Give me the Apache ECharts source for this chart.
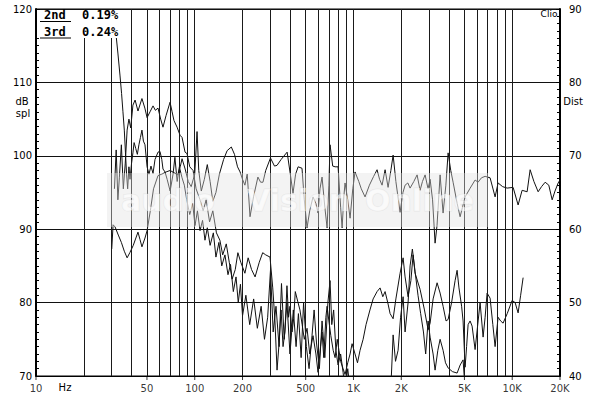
<!DOCTYPE html>
<html><head><meta charset="utf-8">
<script src="https://cdn.jsdelivr.net/npm/echarts@6/dist/echarts.min.js"></script>
<style>html,body{margin:0;padding:0;background:#fff}#c{width:600px;height:396px}</style>
</head><body><div id="c"></div>
<script>
// Frequency response (dB SPL) : [Hz, dB]
const fundamental = [
[30,87.3],[30.6,90.6],[31.5,90.3],[33,89.2],[34.5,88.2],[36,87],[37.5,86.1],[39,86.8],[41,87.8],[43.9,89.6],
[45.2,88.6],[46.5,87.6],[48.6,88.8],[50.1,89.8],[52.5,92.5],[55,95.5],[58.7,97.3],[62,97.5],[66,97.8],[70,98.0],
[74,97.7],[78,97.4],[81,98.5],[83.2,99.6],[87,98.2],[91,96.5],[95,95.8],[100,97.5],[103.4,103.3],[106,98],
[110,95.2],[115,96.8],[120,98.8],[125,96.5],[130,93.8],[136,95],[143,97.5],[152,99.5],[160,100.7],[170,101.2],
[178,100.2],[186,98.5],[193,97.8],[200,96.8],[207,96],[214,97.5],[218,95],[223,91.7],[235,94.5],[250,97.1],
[260,96.4],[269,96.4],[280,98],[300,99.7],[318,98.6],[330,98.7],[350,99.5],[382,100.5],[400,97.5],[416,94.9],
[432,97.5],[448,98.5],[474,98.3],[490,94],[510,90.2],[530,92.5],[556,94.4],[580,93.5],[598,92.2],[615,95.5],
[634,97.1],[660,93],[682,90.2],[700,96],[712,101.5],[740,98.6],[766,98.5],[800,98.5],[830,93],[848,90.2],
[870,94.5],[885,96.3],[920,94],[952,91.5],[990,95.5],[1023,97.8],[1080,96.5],[1120,95.5],[1183,94.4],[1260,96],
[1340,97.2],[1408,98.1],[1460,96.8],[1514,96.0],[1582,98.1],[1652,95.7],[1720,98],[1777,100.1],[1850,96.5],[1966,92.3],
[2050,95],[2114,96.0],[2200,96.3],[2273,95.6],[2400,96.5],[2516,97.4],[2628,95.3],[2720,96.5],[2826,97.4],[2950,95.5],
[3039,96.8],[3150,94],[3267,88.1],[3360,90.5],[3513,97.4],[3669,92.2],[3820,96],[3946,100.4],[4100,98],[4242,96.4],
[4500,93.5],[4696,91.7],[5049,94.4],[5400,95.5],[5837,96.7],[6096,96.4],[6400,97],[6748,97.2],[7256,97.0],[7802,94.4],
[8149,96.3],[8700,95.8],[9287,95.6],[10132,95.7],[10894,93.3],[11545,95.3],[12414,95.1],[12968,98.1],[13700,96.5],[14566,95.1],
[15300,95.8],[16126,96.4],[17000,96],[17851,94.0],[18600,95.2],[19477,96.3],[20000,96.7]
];
// 2nd harmonic distortion : [Hz, dB]
const harmonic2 = [
[31.2,95.5],[32,100.8],[32.8,94],[33.5,97],[34.5,101.5],[35.5,95.5],[36.5,99],[37.5,103.5],[38.5,105],[39.5,103.8],
[40.8,106.9],[42.1,107.6],[43.9,106.1],[46.5,107.8],[48.5,106.5],[50.1,105.2],[52.3,106],[54.6,106.8],[56.5,106.2],[58.7,106.5],
[61,105],[63.1,103.9],[66,105.5],[69.9,107.3],[72,106],[74,104.8],[77.4,103.9],[80.8,102.8],[83.2,102.5],[86.9,100.5],
[89.4,100.3],[93,98.5],[97.6,98],[102,95.5],[108,94],[113,92.5],[118,94],[124,91],[130,92.5],[137,89.5],
[144,88.5],[150,86.5],[158,88],[165,85.5],[172,83.2],[180,84.5],[187,86.8],[195,85.5],[207,84],[217,86.1],
[228,84.5],[240,83.5],[255,85.5],[268,86.8],[280,86.5],[298,86.2],[310,82],[320,77.6],[330,70.8],[340,74.5],
[350,79],[360,74],[370,76],[381,82.3],[390,78],[398,79.5],[410,76],[420,77.8],[430,81.5],[445,80.2],
[460,79],[475,77],[490,75],[510,76.5],[530,73],[556,75.5],[580,73],[598,70.5],[620,74],[634,76],
[650,72.5],[670,78],[682,79.5],[700,77.5],[720,75.5],[745,73.5],[766,72.5],[790,75],[810,73.5],[830,72],
[860,71],[885,70.2],[920,71.8],[952,73],[980,74.4],[1023,73],[1060,71.8],[1100,73.5],[1150,75],[1200,77],
[1270,79],[1330,80.5],[1408,81.5],[1471,82],[1530,80.8],[1582,81.5],[1652,79.8],[1701,78.5],[1777,77.8],[1850,80.5],
[1966,84],[2054,86.1],[2114,83.5],[2208,80.8],[2300,83],[2374,86.5],[2444,84],[2628,81.8],[2800,79],[2952,76.3],
[3039,77.2],[3174,80.5],[3364,82.7],[3513,81.3],[3669,79.5],[3830,77.5],[3946,77.7],[4150,80],[4367,83],[4496,84.4],
[4620,82],[4800,79.5],[4904,77.5],[5049,71.2],[5160,74],[5273,77],[5428,77.5],[5588,76.8],[5837,73.6],[6100,77.5],
[6276,80],[6555,75.3],[6750,78],[6947,81.3],[7256,80.6],[7550,77],[7802,74],[8149,78],[8450,77.5],[8762,77.2],
[9300,78.5],[9986,80.3],[10430,80],[10894,78.6],[11300,81],[11714,83.4]
];
// 3rd harmonic distortion : [Hz, dB]
const harmonic3 = [
[32.0,116.3],[32.8,114],[33.8,111],[34.6,108.5],[35.3,106],[36,103.5],[36.6,100.5],[37.2,97.5],[37.8,95.5],[38.5,98.5],
[39.1,96.8],[40,99],[40.8,100.4],[41.5,101.8],[42.5,101],[43.5,100.2],[44.5,101.5],[45.5,102.5],[46.5,103.5],[47.5,102],
[48.6,101.5],[50.1,98.5],[51.5,97.5],[53,98.6],[54.6,97.6],[56.2,99.5],[58.7,100.5],[60.4,100.6],[62,99.5],[63.1,98.2],
[65,97.8],[67,96.8],[70,95.2],[73,97.5],[75,99.8],[77.5,96.5],[80,98.5],[83.2,97],[86,96],[89,94],
[93,92],[97,93.5],[100.4,90.5],[104,92.5],[108,89.8],[112,91.2],[116,88.5],[120,90.2],[125,87.8],[131,89.5],
[136,86.2],[142,88.2],[148,85],[155,86.5],[162,83.8],[168,85.2],[175,81.5],[182,83.5],[188,80],[194,82.5],
[200,78.2],[210,81],[222,77],[235,80.5],[248,76.5],[262,79.5],[275,75],[288,78],[300,84.4],[312,76],
[325,79.5],[340,74],[352,82.6],[366,75],[381,80],[398,73],[418,79],[435,74],[450,78.5],[468,72.5],
[485,80],[505,74],[525,71],[548,75.5],[565,79],[585,74.5],[610,71],[634,77.5],[660,72.5],[690,80],
[712,83],[730,77],[750,79],[775,73.5],[800,71.5],[830,73],[860,70.5],[885,68],[920,71],[960,67.5],
[1000,70.2],[1060,68.5],[1100,66],[1200,68.6],[1300,66],[1440,64],[1600,62],
[1701,66],[1777,75.6],[1840,72],[1910,73.5],[1980,78],[2054,80.8],[2114,76],[2208,80],[2273,85],[2350,87.3],
[2444,84.2],[2550,81],[2650,78.5],[2760,76],[2850,73],[2952,77.5],[3039,75.3],[3174,73],[3267,70.8],[3400,73.5],
[3513,75],[3669,73.5],[3800,71.8],[3946,71.1],[4200,70.6],[4496,70.4],[4700,71.5],[4904,72.2],[5000,69.5],[5300,66],
[6500,65]
];
// Axis definitions
const gridFreqs = [20,30,40,50,60,70,80,90,100,200,300,400,500,600,700,800,900,1000,2000,3000,4000,5000,6000,7000,8000,9000,10000];
const xLabelFreqs = [10,50,100,200,500,1000,2000,5000,10000,20000];
const xLabelTexts = ['10','50','100','200','500','1K','2K','5K','10K','20K'];
const splRange = [70,120];
const distRange = [40,90];
const legendNames = ['2nd','3rd'];
const legendValues = ['0.19%','0.24%'];

const FONT = 'DejaVu Sans';
const chart = echarts.init(document.getElementById('c'), null, {renderer:'svg', width:600, height:396});

function curve(name, data){
  return {name, type:'line', data, xAxisIndex:0, yAxisIndex:0, showSymbol:false, symbol:'none',
    lineStyle:{color:'#111', width:1}, clip:true, silent:true, z:3, animation:false};
}

const option = {
  animation:false,
  backgroundColor:'#fff',
  grid:{left:36, right:40, top:9, bottom:20, show:true, borderColor:'#000', borderWidth:1, backgroundColor:'transparent'},
  xAxis:{type:'log', logBase:10, min:10, max:20000,
    axisLine:{show:true, onZero:false, lineStyle:{color:'#000', width:1}},
    axisTick:{show:false}, axisLabel:{show:false}, splitLine:{show:false}, minorTick:{show:false}},
  yAxis:[
    {type:'value', min:splRange[0], max:splRange[1], interval:10, position:'left',
     axisLine:{show:true, onZero:false, lineStyle:{color:'#000', width:2}},
     axisTick:{show:true, inside:true, length:4, lineStyle:{color:'#000'}},
     minorTick:{show:true, splitNumber:10, length:3, lineStyle:{color:'#000'}},
     splitLine:{show:true, lineStyle:{color:'#111', width:1}},
     axisLabel:{color:'#000', fontSize:10, fontFamily:FONT, margin:4}},
    {type:'value', min:distRange[0], max:distRange[1], interval:10, position:'right',
     axisLine:{show:true, onZero:false, lineStyle:{color:'#000', width:2}},
     axisTick:{show:true, inside:true, length:4, lineStyle:{color:'#000'}},
     minorTick:{show:true, splitNumber:10, length:3, lineStyle:{color:'#000'}},
     splitLine:{show:false},
     axisLabel:{color:'#000', fontSize:10, fontFamily:FONT, margin:9}}
  ],
  series:[
    {type:'line', data:[], silent:true, z:1,
     markLine:{silent:true, symbol:['none','none'], label:{show:false}, animation:false,
       lineStyle:{color:'#1a1a1a', width:1, type:'solid'}, emphasis:{disabled:true},
       data: gridFreqs.map(f => ({xAxis:f}))}},
    {type:'scatter', silent:true, clip:false, z:4, symbol:'rect', symbolSize:[1,4], symbolOffset:[0,2],
     itemStyle:{color:'#000'},
     label:{show:true, position:'bottom', distance:3, color:'#000', fontSize:10, fontFamily:FONT},
     data: xLabelFreqs.map((f,i) => ({value:[f, splRange[0]], label:{formatter:xLabelTexts[i]}}))},
    curve('Fundamental', fundamental),
    curve('2nd', harmonic2),
    curve('3rd', harmonic3)
  ],
  graphic:[
    {type:'rect', z:20, silent:true, shape:{x:107, y:173, width:381, height:54}, style:{fill:'rgba(225,225,225,0.4)'}},
    {type:'text', z:21, silent:true, x:121, y:200, style:{text:'audio', fill:'rgba(255,255,255,0.6)', stroke:'rgba(205,205,205,0.35)', lineWidth:1, font:'bold 30px DejaVu Sans', verticalAlign:'middle'}},
    {type:'text', z:21, silent:true, x:247, y:200, style:{text:'Vision', fill:'rgba(255,255,255,0.6)', stroke:'rgba(205,205,205,0.35)', lineWidth:1, font:'bold 30px DejaVu Sans', verticalAlign:'middle'}},
    {type:'text', z:21, silent:true, x:365, y:200, style:{text:'Online', fill:'rgba(255,255,255,0.6)', stroke:'rgba(205,205,205,0.35)', lineWidth:1, font:'bold 30px DejaVu Sans', verticalAlign:'middle'}},
    {type:'rect', z:50, silent:true, shape:{x:37, y:10, width:86, height:28}, style:{fill:'#fff'}},
    {type:'text', z:51, x:44, y:15, style:{text:legendNames[0], fill:'#000', font:'bold 12px DejaVu Sans Mono', verticalAlign:'middle'}},
    {type:'text', z:51, x:82, y:15, style:{text:legendValues[0], fill:'#000', font:'bold 12px DejaVu Sans Mono', verticalAlign:'middle'}},
    {type:'line', z:51, shape:{x1:40, y1:21.5, x2:71, y2:21.5}, style:{stroke:'#000', lineWidth:1}},
    {type:'text', z:51, x:44, y:32, style:{text:legendNames[1], fill:'#000', font:'bold 12px DejaVu Sans Mono', verticalAlign:'middle'}},
    {type:'text', z:51, x:82, y:32, style:{text:legendValues[1], fill:'#000', font:'bold 12px DejaVu Sans Mono', verticalAlign:'middle'}},
    {type:'line', z:51, shape:{x1:40, y1:38, x2:71, y2:38}, style:{stroke:'#000', lineWidth:1}},
    {type:'text', z:51, x:549, y:14, style:{text:'Clio', fill:'#000', font:'9px DejaVu Sans', align:'center', verticalAlign:'middle'}},
    {type:'text', z:51, x:22, y:101, style:{text:'dB', fill:'#000', font:'10px DejaVu Sans', align:'center', verticalAlign:'middle'}},
    {type:'text', z:51, x:23, y:113, style:{text:'spl', fill:'#000', font:'10px DejaVu Sans', align:'center', verticalAlign:'middle'}},
    {type:'text', z:51, x:573, y:101, style:{text:'Dist', fill:'#000', font:'10px DejaVu Sans', align:'center', verticalAlign:'middle'}},
    {type:'text', z:51, x:65, y:387, style:{text:'Hz', fill:'#000', font:'10px DejaVu Sans', align:'center', verticalAlign:'middle'}}
  ]
};
chart.setOption(option);
</script>
</body></html>
